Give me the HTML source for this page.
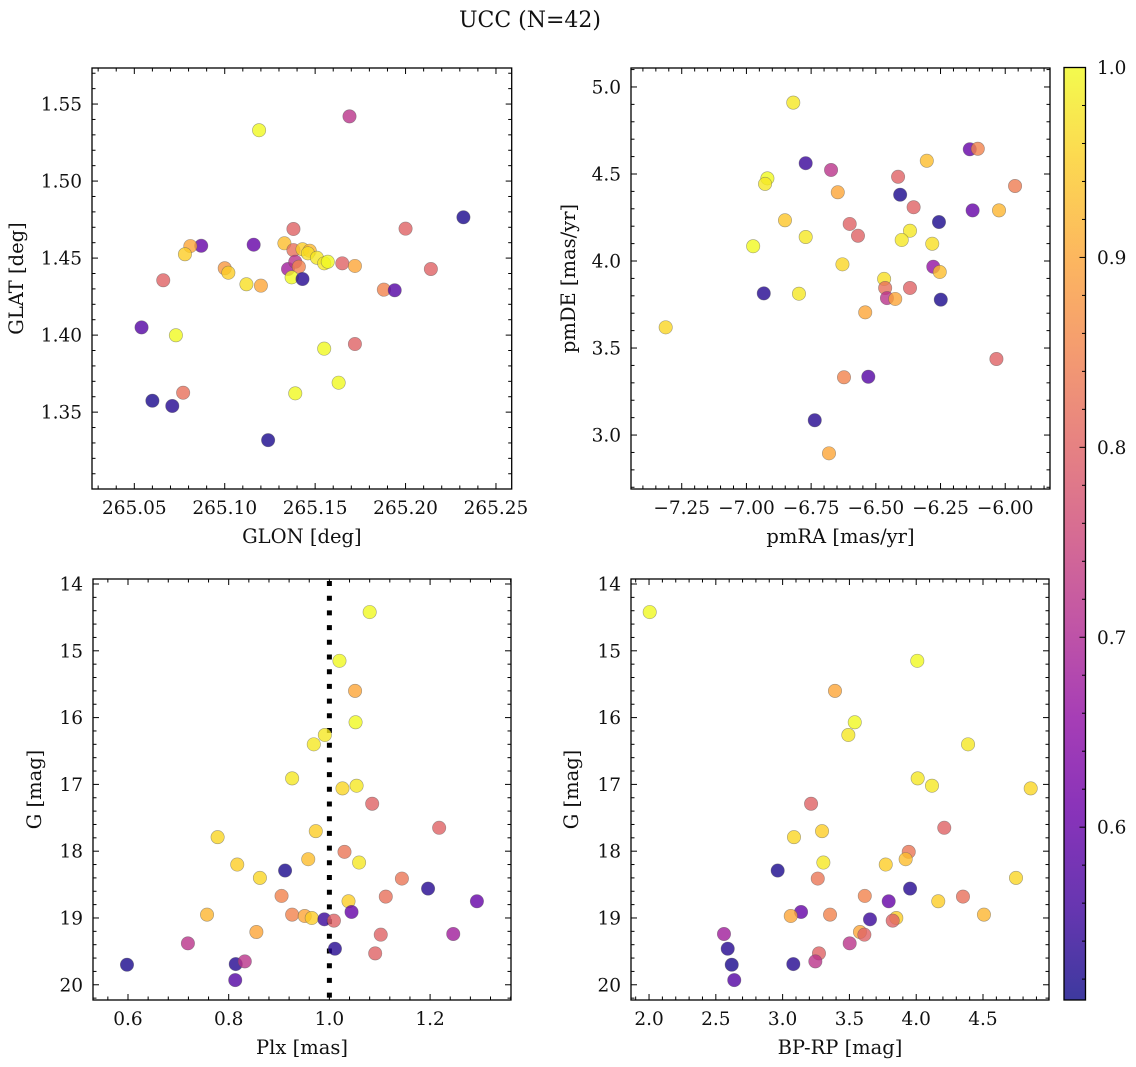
<!DOCTYPE html>
<html><head><meta charset="utf-8">
<style>
html,body{margin:0;padding:0;background:#fff;}
svg{display:block;font-family:"DejaVu Serif","Liberation Serif",serif;}
</style></head>
<body>
<svg id="fig" width="1136" height="1067" viewBox="0 0 1136 1067" xmlns="http://www.w3.org/2000/svg">
<text x="530" y="27" font-size="22" text-anchor="middle" fill="#111">UCC (N=42)</text>
</svg>
<script>
// ---- Top-left: GLON / GLAT ----
const glon = [265.169,265.119,265.232,265.138,265.200,265.116,265.087,265.081,265.078,265.133,265.138,265.143,265.147,265.146,265.151,265.155,265.157,265.165,265.172,265.214,265.100,265.102,265.066,265.112,265.120,265.135,265.139,265.141,265.137,265.143,265.188,265.194,265.054,265.073,265.155,265.172,265.163,265.077,265.060,265.071,265.139,265.124];
const glat = [1.542,1.533,1.4765,1.4689,1.4691,1.4587,1.458,1.4578,1.4525,1.4596,1.4552,1.4557,1.4548,1.4531,1.4502,1.4466,1.4476,1.4466,1.4449,1.4429,1.4434,1.4405,1.4356,1.433,1.4321,1.4429,1.4476,1.4444,1.4375,1.4364,1.4295,1.4291,1.405,1.3999,1.3912,1.3942,1.3691,1.3626,1.3574,1.354,1.3622,1.3318];
const probPos = [0.72,1.0,0.52,0.80,0.80,0.60,0.60,0.90,0.95,0.93,0.82,0.95,0.92,0.97,0.98,0.98,1.0,0.80,0.90,0.80,0.88,0.95,0.80,0.97,0.90,0.68,0.72,0.85,1.0,0.53,0.85,0.58,0.58,1.0,1.0,0.80,1.0,0.82,0.52,0.53,1.0,0.52];
// ---- Top-right: pmRA / pmDE ----
const pmra = [-6.819,-6.137,-6.106,-6.303,-6.771,-6.673,-6.919,-6.928,-6.414,-5.962,-6.647,-6.406,-6.354,-6.126,-6.024,-6.851,-6.256,-6.601,-6.569,-6.368,-6.400,-6.771,-6.974,-6.282,-6.629,-6.278,-6.253,-6.468,-6.464,-6.368,-6.457,-6.425,-6.249,-6.933,-6.797,-6.541,-7.312,-6.034,-6.623,-6.529,-6.736,-6.681];
const pmde = [4.910,4.642,4.645,4.576,4.562,4.523,4.475,4.443,4.484,4.431,4.395,4.381,4.309,4.291,4.291,4.234,4.224,4.213,4.145,4.174,4.121,4.138,4.085,4.099,3.981,3.967,3.937,3.897,3.845,3.845,3.787,3.782,3.778,3.814,3.812,3.705,3.619,3.437,3.332,3.335,3.085,2.895];
const probPM = [0.98,0.60,0.85,0.93,0.55,0.72,1.0,0.98,0.80,0.84,0.90,0.52,0.80,0.60,0.92,0.94,0.52,0.80,0.80,0.98,0.98,0.98,1.0,0.97,0.96,0.66,0.93,0.97,0.82,0.80,0.72,0.90,0.52,0.53,0.98,0.90,0.96,0.80,0.85,0.58,0.53,0.90];
// ---- Bottom: Plx / G / BP-RP ----
const plx = [1.080,1.020,1.051,1.052,0.991,0.969,0.926,1.026,1.054,1.085,1.218,0.778,0.973,1.030,0.958,0.817,1.059,0.912,0.862,1.144,1.196,0.905,1.112,1.293,1.038,1.044,0.757,0.926,0.951,0.965,0.990,1.009,0.855,1.102,1.246,0.719,1.011,1.091,0.598,0.814,0.832,0.813];
const gmag = [14.42,15.15,15.60,16.07,16.26,16.40,16.91,17.06,17.02,17.29,17.65,17.79,17.70,18.01,18.12,18.20,18.17,18.29,18.40,18.41,18.56,18.67,18.68,18.75,18.75,18.91,18.95,18.95,18.97,19.00,19.02,19.04,19.21,19.25,19.24,19.38,19.46,19.53,19.70,19.69,19.65,19.93];
const bprp = [2.005,4.008,3.392,3.540,3.492,4.388,4.011,4.857,4.118,3.213,4.210,3.085,3.295,3.944,3.921,3.772,3.305,2.963,4.747,3.263,3.954,3.615,4.350,3.794,4.165,3.138,4.507,3.355,3.061,3.851,3.654,3.824,3.579,3.612,2.561,3.502,2.589,3.272,2.619,3.080,3.245,2.638];
const probPhot = [1.0,1.0,0.90,1.0,0.98,0.98,0.98,0.96,0.98,0.80,0.80,0.96,0.95,0.83,0.93,0.95,0.98,0.52,0.96,0.83,0.53,0.85,0.82,0.60,0.95,0.60,0.92,0.85,0.90,0.95,0.55,0.80,0.90,0.80,0.68,0.72,0.53,0.80,0.52,0.53,0.72,0.58];
const plxRef = [1.0];
const cbTicks = [0.6,0.7,0.8,0.9,1.0];
const vmin = 0.509, vmax = 1.0;

const NS = "http://www.w3.org/2000/svg";
const svg = document.getElementById('fig');
function mk(tag, attrs, parent){
  const e = document.createElementNS(NS, tag);
  for (const k in attrs) e.setAttribute(k, attrs[k]);
  (parent||svg).appendChild(e);
  return e;
}
const stops = [[13,8,135],[65,4,157],[106,0,168],[143,13,164],[177,42,144],[204,71,120],[225,100,98],[242,132,75],[252,166,54],[252,206,37],[240,249,33]];
function plasma(t){
  t = Math.max(0, Math.min(1, t));
  const f = t*10, i = Math.min(9, Math.floor(f)), r = f - i;
  const a = stops[i], b = stops[i+1];
  return 'rgb(' + [0,1,2].map(k => Math.round(a[k] + (b[k]-a[k])*r)).join(',') + ')';
}
function fmt(v, d){ let s = v.toFixed(d); if (v < 0) s = '\u2212' + s.slice(1); return s; }

function panel(cfg){
  const g = mk('g', {});
  
  
  const X = v => cfg.px0 + (v - cfg.xlim[0]) / (cfg.xlim[1] - cfg.xlim[0]) * (cfg.px1 - cfg.px0);
  const Y = cfg.invert
    ? (v => cfg.py0 + (v - cfg.ylim[0]) / (cfg.ylim[1] - cfg.ylim[0]) * (cfg.py1 - cfg.py0))
    : (v => cfg.py1 - (v - cfg.ylim[0]) / (cfg.ylim[1] - cfg.ylim[0]) * (cfg.py1 - cfg.py0));
  const tg = mk('g', {stroke:'#000', 'stroke-width':1}, g);
  
  
  const lo = Math.min(cfg.xlim[0], cfg.xlim[1]), hi = Math.max(cfg.xlim[0], cfg.xlim[1]);
  for (let v = Math.ceil(lo / cfg.xminor) * cfg.xminor; v <= hi + 1e-9; v += cfg.xminor) {
    const isMaj = Math.abs(v / cfg.xmajor - Math.round(v / cfg.xmajor)) < 1e-6;
    const L = isMaj ? 6 : 3.5, x = X(v);
    mk('line', {x1:x, x2:x, y1:cfg.py1, y2:cfg.py1 - L}, tg);
    mk('line', {x1:x, x2:x, y1:cfg.py0, y2:cfg.py0 + L}, tg);
    if (isMaj) {
      const t = mk('text', {x:x, y:cfg.py1 + 25, 'font-size':18.5, 'text-anchor':'middle', fill:'#111', stroke:'none'}, g);
      
      
      t.textContent = fmt(v, cfg.xdec);
    }
  }
  const ylo = Math.min(cfg.ylim[0], cfg.ylim[1]), yhi = Math.max(cfg.ylim[0], cfg.ylim[1]);
  for (let v = Math.ceil(ylo / cfg.yminor - 1e-9) * cfg.yminor; v <= yhi + 1e-9; v += cfg.yminor) {
    const isMaj = Math.abs(v / cfg.ymajor - Math.round(v / cfg.ymajor)) < 1e-6;
    const L = isMaj ? 6 : 3.5, y = Y(v);
    mk('line', {x1:cfg.px0, x2:cfg.px0 + L, y1:y, y2:y}, tg);
    mk('line', {x1:cfg.px1, x2:cfg.px1 - L, y1:y, y2:y}, tg);
    if (isMaj) {
      const t = mk('text', {x:cfg.px0 - 10, y:y + 6.5, 'font-size':18.5, 'text-anchor':'end', fill:'#111', stroke:'none'}, g);
      
      
      t.textContent = fmt(v, cfg.ydec);
    }
  }
  if (cfg.vline) {
    cfg.vline.forEach(v => {
      const l = mk('line', {x1:X(v), x2:X(v), y1:cfg.py0 + 2, y2:cfg.py1, stroke:'#000', 'stroke-width':5, 'stroke-dasharray':'5 9.7'}, g);
      
      
    });
  }
  const pg = mk('g', {}, g);
  
  
  for (let i = 0; i < cfg.xs.length; i++) {
    const c = mk('circle', {cx:X(cfg.xs[i]), cy:Y(cfg.ys[i]), r:6.7, fill:plasma((cfg.ps[i] - vmin) / (vmax - vmin)), 'fill-opacity':0.8, stroke:'rgba(90,90,90,0.55)', 'stroke-width':0.6}, pg);
    
    
  }
  const fr = mk('rect', {x:cfg.px0, y:cfg.py0, width:cfg.px1 - cfg.px0, height:cfg.py1 - cfg.py0, fill:'none', stroke:'#000', 'stroke-width':1.3}, g);
  
  
  const xl = mk('text', {x:(cfg.px0 + cfg.px1) / 2, y:cfg.py1 + 54, 'font-size':19.5, 'text-anchor':'middle', fill:'#111'}, g);
  
  
  xl.textContent = cfg.xlabel;
  const yx = cfg.ylabelX, yy = (cfg.py0 + cfg.py1) / 2;
  const yl = mk('text', {x:yx, y:yy, 'font-size':19.5, 'text-anchor':'middle', fill:'#111', transform:'rotate(-90 ' + yx + ' ' + yy + ')'}, g);
  
  
  yl.textContent = cfg.ylabel;
}

panel({name:'glon-glat-panel', px0:92, px1:511.7, py0:68, py1:489, xlim:[265.0266,265.2587], ylim:[1.3001,1.5734],
  xmajor:0.05, xminor:0.01, ymajor:0.05, yminor:0.01, xdec:2, ydec:2, xs:glon, ys:glat, ps:probPos,
  xlabel:'GLON [deg]', ylabel:'GLAT [deg]', ylabelX:23});
panel({name:'pm-panel', px0:631, px1:1050, py0:68, py1:489, xlim:[-7.446,-5.827], ylim:[2.690,5.109],
  xmajor:0.25, xminor:0.05, ymajor:0.5, yminor:0.1, xdec:2, ydec:1, xs:pmra, ys:pmde, ps:probPM,
  xlabel:'pmRA [mas/yr]', ylabel:'pmDE [mas/yr]', ylabelX:575});
panel({name:'plx-g-panel', px0:93, px1:511, py0:579, py1:1000, xlim:[0.5305,1.3607], ylim:[13.925,20.228], invert:true,
  xmajor:0.2, xminor:0.04, ymajor:1, yminor:0.2, xdec:1, ydec:0, xs:plx, ys:gmag, ps:probPhot, vline:plxRef,
  xlabel:'Plx [mas]', ylabel:'G [mag]', ylabelX:41});
panel({name:'cmd-panel', px0:631, px1:1049, py0:579, py1:1000, xlim:[1.865,4.994], ylim:[13.925,20.228], invert:true,
  xmajor:0.5, xminor:0.1, ymajor:1, yminor:0.2, xdec:1, ydec:0, xs:bprp, ys:gmag, ps:probPhot,
  xlabel:'BP-RP [mag]', ylabel:'G [mag]', ylabelX:578});

const cb = mk('g', {});


const defs = mk('defs', {}, cb);
const lg = mk('linearGradient', {id:'cbg', x1:0, y1:1, x2:0, y2:0}, defs);
for (let i = 0; i <= 10; i++) mk('stop', {offset:(i * 10) + '%', 'stop-color':plasma(i / 10)}, lg);
const cbx0 = 1064, cbx1 = 1085.5, cby0 = 67.5, cby1 = 1000;
mk('rect', {x:cbx0, y:cby0, width:cbx1 - cbx0, height:cby1 - cby0, fill:'url(#cbg)', 'fill-opacity':0.8}, cb);
const CY = v => cby1 - (v - vmin) / (vmax - vmin) * (cby1 - cby0);
for (let v = 0.52; v <= 1.0001; v += 0.02) {
  const maj = Math.abs(v * 10 - Math.round(v * 10)) < 1e-6;
  const y = CY(v);
  mk('line', {x1:cbx1, x2:cbx1 - (maj ? 6 : 3.5), y1:y, y2:y, stroke:'#000', 'stroke-width':1}, cb);
}
cbTicks.forEach(v => {
  const t = mk('text', {x:1097, y:CY(v) + 6.5, 'font-size':18.5, fill:'#111'}, cb);
  
  
  t.textContent = v.toFixed(1);
});
const cbf = mk('rect', {x:cbx0, y:cby0, width:cbx1 - cbx0, height:cby1 - cby0, fill:'none', stroke:'#000', 'stroke-width':1.3}, cb);


</script>
</body></html>
